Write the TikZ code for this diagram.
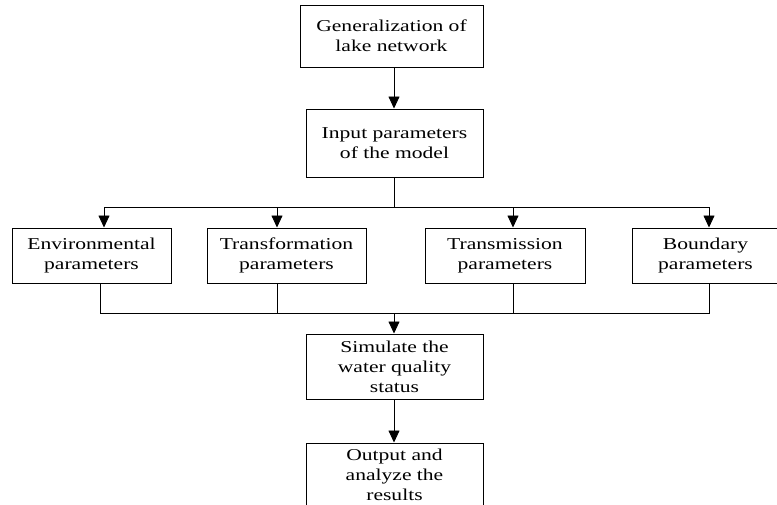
\documentclass[tikz,border=0pt]{standalone}
\usepackage{fontspec}
\setmainfont[FakeStretch=1.3]{Liberation Serif}
\usetikzlibrary{positioning,arrows.meta}

\begin{document}
\begin{tikzpicture}[x=1pt, y=-1pt, font=\fontsize{16.6}{20}\selectfont,
      box/.style={draw, line width=1pt, align=center, inner sep=2pt},
      col/.style={box, minimum width=177pt},
      par/.style={box, minimum width=159pt, minimum height=55pt},
      f/.style={-{Triangle[length=12pt, width=11pt]}, line width=0.8pt},
      l/.style={line width=0.8pt}]
    \clip (0,0) rectangle (777,504);

    \node[col, minimum width=183pt, minimum height=62pt] (gen) at (391.5,36) {Generalization of\\ lake network};
    \node[col, minimum height=68pt, below=41pt of gen, xshift=3pt] (inp) {Input parameters\\ of the model};

    \node[par] (env) at (91.5,255.5) {Environmental\\ parameters};
    \node[par, right=35pt of env] (trf) {Transformation\\ parameters};
    \node[par, minimum width=160pt, right=58pt of trf] (trm) {Transmission\\ parameters};
    \node[par, minimum width=147pt, right=46pt of trm] (bnd) {Boundary\\ parameters};

    \node[col, minimum height=65pt] (sim) at (394.5,366.5) {Simulate the\\ water quality\\ status};
    \node[col, minimum height=64pt, below=43pt of sim] (out) {Output and\\ analyze the\\ results};

    \coordinate (split) at (394,207);
    \coordinate (merge) at (394,313);

    \draw[f] (gen.south -| split) -- (inp.north -| split);
    \draw[l] (inp.south -| split) -- (split);
    \draw[f] (split) -| ([xshift=12.5pt]env.north);
    \draw[f] (split) -| ([xshift=-9.5pt]trf.north);
    \draw[f] (split) -| ([xshift=8pt]trm.north);
    \draw[f] (split) -| ([xshift=3.5pt]bnd.north);

    \draw[l] ([xshift=8.5pt]env.south) |- (merge);
    \draw[l] ([xshift=-9.5pt]trf.south) |- (merge);
    \draw[l] ([xshift=8.5pt]trm.south) |- (merge);
    \draw[l] ([xshift=3.5pt]bnd.south) |- (merge);
    \draw[f] (merge) -- (sim.north -| merge);
    \draw[f] (sim.south -| merge) -- (out.north -| merge);
  \end{tikzpicture}
\end{document}
